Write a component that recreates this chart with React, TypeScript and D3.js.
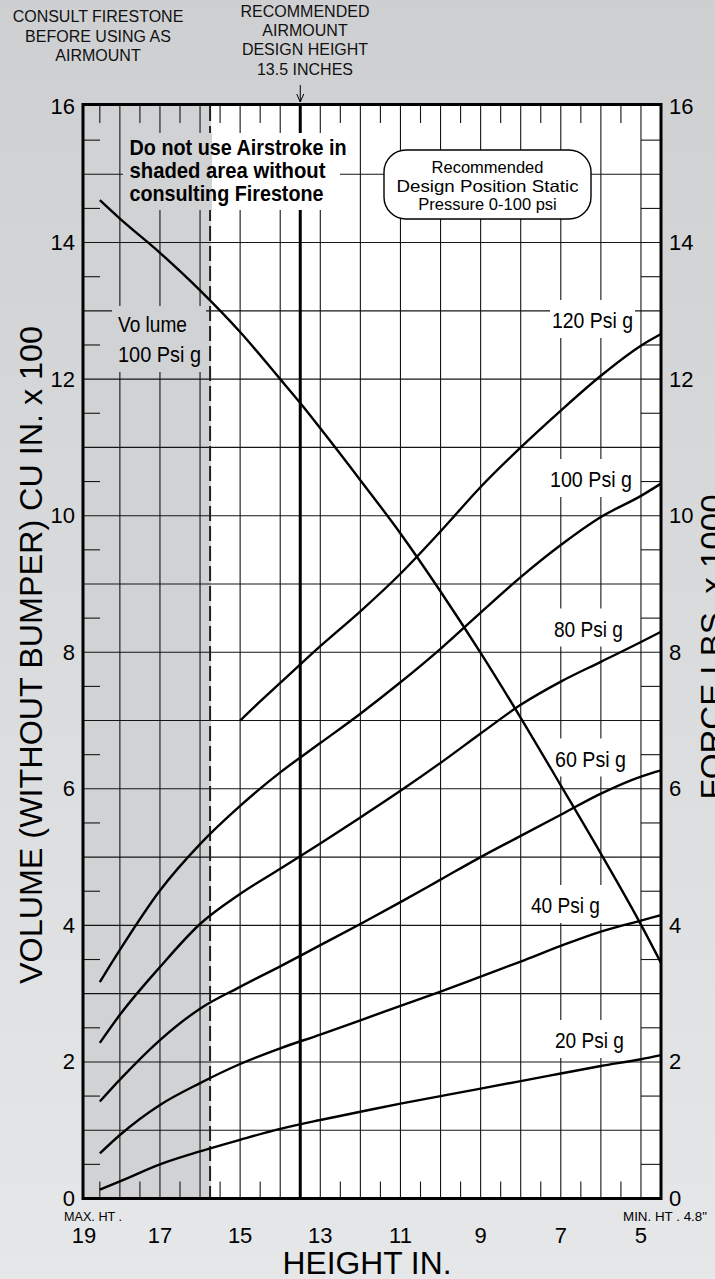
import React from "react";
import * as d3 from "d3";

// ---------- data ----------
const heightTicks = [19, 17, 15, 13, 11, 9, 7, 5];
const valueTicks = [0, 2, 4, 6, 8, 10, 12, 14, 16];

const volumeHeights = [18.5, 18, 17, 16, 15, 14, 13.5, 13, 12, 11, 10, 9, 8, 7, 6, 5, 4.5];
const volume100 = [14.62, 14.35, 13.85, 13.3, 12.69, 12.0, 11.65, 11.28, 10.52, 9.74, 8.89, 7.99, 7.04, 6.05, 5.05, 4.01, 3.45];

const psiHeights = [18.5, 18, 17, 16, 15, 14, 13, 12, 11, 10, 9, 8, 7, 6, 5, 4.5];
const force20 = [0.13, 0.25, 0.5, 0.69, 0.86, 1.02, 1.15, 1.27, 1.39, 1.5, 1.61, 1.72, 1.83, 1.94, 2.04, 2.1];
const force40 = [0.66, 0.93, 1.37, 1.69, 1.97, 2.2, 2.4, 2.61, 2.82, 3.03, 3.25, 3.47, 3.7, 3.91, 4.07, 4.15];
const force60 = [1.42, 1.74, 2.32, 2.78, 3.1, 3.4, 3.71, 4.02, 4.34, 4.67, 5.0, 5.31, 5.62, 5.93, 6.18, 6.27];
const force80 = [2.28, 2.69, 3.39, 4.02, 4.46, 4.83, 5.2, 5.58, 5.97, 6.38, 6.81, 7.23, 7.57, 7.86, 8.15, 8.3];
const force100 = [3.17, 3.64, 4.51, 5.19, 5.75, 6.24, 6.67, 7.1, 7.56, 8.05, 8.58, 9.1, 9.57, 9.98, 10.29, 10.47];

const force120Heights = [15, 14.5, 14, 13, 12, 11, 10, 9, 8, 7, 6, 5, 4.5];
const force120 = [7.0, 7.28, 7.55, 8.09, 8.6, 9.15, 9.77, 10.42, 11.0, 11.54, 12.05, 12.49, 12.66];

const psiLabels = ["120 Psi g", "100 Psi g", "80 Psi g", "60 Psi g", "40 Psi g", "20 Psi g"];

const designHeight = 13.5;
const shadedLimit = 15.75;

// ---------- layout ----------
const W = 715;
const H = 1279;
const L = 83;
const R = 661;
const T = 106;
const B = 1198.5;

const FONT = "'Liberation Sans', Arial, Helvetica, sans-serif";

const xs = d3.scaleLinear().domain([18.92, 4.5]).range([L, R]);
const ys = d3.scaleLinear().domain([0, 16]).range([B, T]);

const line = d3
  .line<[number, number]>()
  .x((d) => xs(d[0]))
  .y((d) => ys(d[1]))
  .curve(d3.curveMonotoneX);

const zipPts = (hs: number[], vs: number[]) => hs.map((h, i) => [h, vs[i]] as [number, number]);

// label placements: [x start, baseline, width]
const psiLabelPos: [number, number, number][] = [
  [552, 328, 81],
  [550, 487, 82],
  [554, 636.5, 69],
  [555, 766.5, 71],
  [531, 913, 69],
  [555, 1048, 69],
];

export default function App() {
  const vGrid = d3.range(5, 19);
  const hGrid = d3.range(1, 16);
  const halfV = d3.range(0.5, 16, 1);
  const halfH = d3.range(5.5, 19, 1).filter((h) => h !== designHeight);

  const curves = [
    zipPts(psiHeights, force20),
    zipPts(psiHeights, force40),
    zipPts(psiHeights, force60),
    zipPts(psiHeights, force80),
    zipPts(psiHeights, force100),
    zipPts(force120Heights, force120),
    zipPts(volumeHeights, volume100),
  ];

  const shadeX = xs(shadedLimit);
  const gridStroke = "#151515";

  return (
    <div style={{ position: "absolute", left: 0, top: 0 }}>
      <svg width={W} height={H} style={{ display: "block" }} fontFamily={FONT}>
        <defs>
          <linearGradient id="bg" x1="0" y1="0" x2="0" y2="1">
            <stop offset="0" stopColor="#cecfd1" />
            <stop offset="1" stopColor="#e6e7e9" />
          </linearGradient>
        </defs>
        <rect x={0} y={0} width={W} height={H} fill="url(#bg)" />

        {/* plot background */}
        <rect x={L} y={T} width={R - L} height={B - T} fill="#ffffff" />
        <rect x={L} y={T} width={shadeX + 1 - L} height={B - T} fill="#d1d2d4" />

        {/* grid */}
        {vGrid.map((h) => (
          <line key={"vg" + h} x1={xs(h)} x2={xs(h)} y1={T} y2={B} stroke={gridStroke} strokeWidth={1.1} />
        ))}
        {hGrid.map((v) => (
          <line key={"hg" + v} x1={L} x2={R} y1={ys(v)} y2={ys(v)} stroke={gridStroke} strokeWidth={1.1} />
        ))}
        {halfV.map((v) => (
          <g key={"hv" + v}>
            <line x1={L} x2={L + 17} y1={ys(v)} y2={ys(v)} stroke={gridStroke} strokeWidth={1.1} />
            <line x1={xs(5)} x2={R} y1={ys(v)} y2={ys(v)} stroke={gridStroke} strokeWidth={1.1} />
          </g>
        ))}
        {halfH.map((h) => (
          <g key={"hh" + h}>
            <line x1={xs(h)} x2={xs(h)} y1={T} y2={T + 17} stroke={gridStroke} strokeWidth={1.1} />
            <line x1={xs(h)} x2={xs(h)} y1={B - 17} y2={B} stroke={gridStroke} strokeWidth={1.1} />
          </g>
        ))}

        {/* shaded limit dashed line */}
        <line x1={shadeX} x2={shadeX} y1={T} y2={B} stroke="#222" strokeWidth={2} strokeDasharray="15 5" />

        {/* design height line */}
        <line x1={xs(designHeight)} x2={xs(designHeight)} y1={T} y2={B} stroke="#000" strokeWidth={3} />

        {/* label backgrounds */}
        <rect x={123} y={133} width={shadeX + 2 - 123} height={77} fill="#d1d2d4" />
        <rect x={shadeX + 2} y={133} width={340 - shadeX - 2} height={77} fill="#ffffff" />
        <rect x={112} y={306} width={shadeX - 4 - 112} height={66} fill="#d1d2d4" />
        {psiLabelPos.map(([x, b, w], i) => (
          <rect key={"lb" + i} x={x - 2} y={b - 28} width={w + 4} height={38} fill="#ffffff" />
        ))}

        {/* curves */}
        {curves.map((pts, i) => (
          <path key={"c" + i} d={line(pts) || ""} fill="none" stroke="#000" strokeWidth={2.4} strokeLinejoin="round" />
        ))}

        {/* recommended box */}
        <rect x={384} y={150} width={207} height={69} rx={22} ry={22} fill="#fff" stroke="#000" strokeWidth={1.4} />
        <g fontSize={16.5} textAnchor="middle" fill="#000">
          <text x={487.5} y={173}>Recommended</text>
          <text x={487.5} y={191.5} textLength={182} lengthAdjust="spacingAndGlyphs">Design Position Static</text>
          <text x={487.5} y={210}>Pressure 0-100 psi</text>
        </g>

        {/* frame */}
        <rect x={L} y={T - 1.5} width={R - L} height={B - T + 1.5} fill="none" stroke="#000" strokeWidth={3} />

        {/* warning text */}
        <g fontSize={22} fontWeight="bold" fill="#000">
          <text x={129.5} y={155} textLength={217} lengthAdjust="spacingAndGlyphs">Do not use Airstroke in</text>
          <text x={129.5} y={178} textLength={196} lengthAdjust="spacingAndGlyphs">shaded area without</text>
          <text x={129.5} y={201} textLength={194} lengthAdjust="spacingAndGlyphs">consulting Firestone</text>
        </g>

        {/* volume label */}
        <g fontSize={22} fill="#000">
          <text x={118} y={331.5} textLength={69} lengthAdjust="spacingAndGlyphs">Vo lume</text>
          <text x={118} y={361.5} textLength={83} lengthAdjust="spacingAndGlyphs">100 Psi g</text>
        </g>

        {/* psi labels */}
        <g fontSize={22} fill="#000">
          {psiLabels.map((t, i) => (
            <text key={"pl" + i} x={psiLabelPos[i][0]} y={psiLabelPos[i][1]} textLength={psiLabelPos[i][2]} lengthAdjust="spacingAndGlyphs">
              {t}
            </text>
          ))}
        </g>

        {/* top annotations */}
        <g fontSize={16} textAnchor="middle" fill="#111">
          <text x={98} y={22}>CONSULT FIRESTONE</text>
          <text x={98} y={41.7}>BEFORE USING AS</text>
          <text x={98} y={61}>AIRMOUNT</text>
          <text x={305} y={17.3}>RECOMMENDED</text>
          <text x={305} y={36}>AIRMOUNT</text>
          <text x={305} y={55}>DESIGN HEIGHT</text>
          <text x={305} y={75}>13.5 INCHES</text>
        </g>
        <g stroke="#000" strokeWidth={1} fill="none">
          <line x1={xs(designHeight)} x2={xs(designHeight)} y1={85} y2={102} />
          <polyline points={`${xs(designHeight) - 3.5},94 ${xs(designHeight)},102 ${xs(designHeight) + 3.5},94`} />
        </g>

        {/* left / right tick labels */}
        <g fontSize={22} fill="#000">
          {valueTicks.map((v) => (
            <text key={"lt" + v} x={75} y={ys(v) + 7.5} textAnchor="end">
              {v}
            </text>
          ))}
          {valueTicks.map((v) => (
            <text key={"rt" + v} x={669} y={ys(v) + 7.5} textAnchor="start">
              {v}
            </text>
          ))}
        </g>

        {/* bottom tick labels */}
        <g fontSize={22} fill="#000" textAnchor="middle">
          {heightTicks.map((h) => (
            <text key={"bt" + h} x={Math.max(xs(h), 84)} y={1243}>
              {h}
            </text>
          ))}
        </g>
        <text x={64} y={1221} fontSize={12.5} textLength={58} lengthAdjust="spacingAndGlyphs" fill="#000">
          MAX. HT .
        </text>
        <text x={623} y={1220.5} fontSize={13.5} textLength={84} lengthAdjust="spacingAndGlyphs" fill="#000">
          MIN. HT . 4.8"
        </text>

        {/* axis titles */}
        <text x={367} y={1274} fontSize={30.5} textAnchor="middle" textLength={169} lengthAdjust="spacingAndGlyphs" fill="#000">
          HEIGHT IN.
        </text>
        <text
          transform="translate(42,655) rotate(-90)"
          fontSize={32}
          textAnchor="middle"
          textLength={658}
          lengthAdjust="spacingAndGlyphs"
          fill="#000"
        >
          VOLUME (WITHOUT BUMPER) CU IN. x 100
        </text>
        <text
          transform="translate(723,647) rotate(-90)"
          fontSize={32}
          textAnchor="middle"
          textLength={305}
          lengthAdjust="spacingAndGlyphs"
          fill="#000"
        >
          FORCE LBS. x 1000
        </text>
      </svg>
    </div>
  );
}
